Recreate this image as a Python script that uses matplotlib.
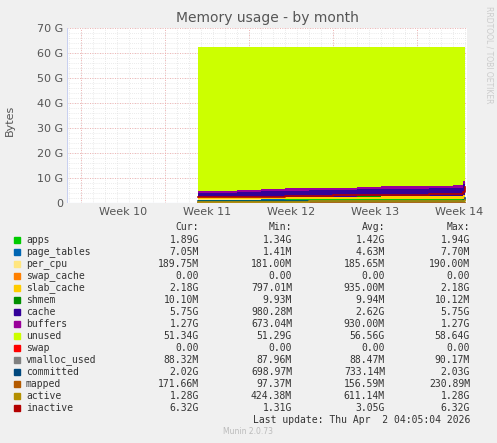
import matplotlib
matplotlib.use("Agg")
import matplotlib.pyplot as plt
import numpy as np

# days since Monday of week 10
days = [9.75, 11, 13, 15, 17, 19, 21, 23, 25, 27, 29, 31, 31.8, 32]

# stacked areas (GB)
apps = [1.35, 1.35, 1.38, 1.40, 1.42, 1.42, 1.43, 1.44, 1.45, 1.46, 1.47, 1.48, 1.60, 1.89]
page_tables = [0.005] * 13 + [0.007]
per_cpu = [0.18] * 13 + [0.19]
swap_cache = [0.0] * 14
slab_cache = [0.80, 0.82, 0.85, 0.88, 0.90, 0.92, 0.95, 0.97, 1.00, 1.02, 1.05, 1.08, 1.30, 2.18]
shmem = [0.01] * 14
cache = [1.6, 1.8, 2.0, 2.2, 2.4, 2.5, 2.6, 2.8, 3.0, 3.1, 3.2, 3.3, 4.5, 5.75]
buffers = [0.75, 0.8, 0.85, 0.9, 0.92, 0.95, 0.97, 1.0, 1.0, 1.0, 1.05, 1.1, 1.2, 1.27]
unused = [57.8, 57.53, 57.23, 56.93, 56.67, 56.52, 56.36, 56.1, 55.86, 55.73, 55.54, 55.35, 53.71, 51.2]
swap = [0.0] * 14

# lines (GB)
vmalloc_used = [0.088] * 14
committed = [0.70, 0.70, 0.71, 0.72, 0.72, 0.73, 0.73, 0.74, 0.74, 0.75, 0.76, 0.77, 1.2, 2.02]
mapped = [0.10, 0.12, 0.14, 0.15, 0.15, 0.16, 0.16, 0.16, 0.16, 0.17, 0.17, 0.17, 0.17, 0.17]
active = [0.45, 0.50, 0.55, 0.60, 0.60, 0.62, 0.62, 0.63, 0.64, 0.65, 0.66, 0.68, 0.90, 1.28]
inactive = [2.3, 2.3, 2.4, 2.6, 2.8, 3.0, 3.1, 3.2, 3.3, 3.4, 3.5, 3.6, 4.5, 6.32]

week_labels = ["Week 10", "Week 11", "Week 12", "Week 13", "Week 14"]
week_pos = [3.5, 10.5, 17.5, 24.5, 31.5]

legend_rows = [
    ("apps", "#00CC00", "1.89G", "1.34G", "1.42G", "1.94G"),
    ("page_tables", "#0066B3", "7.05M", "1.41M", "4.63M", "7.70M"),
    ("per_cpu", "#FFE680", "189.75M", "181.00M", "185.65M", "190.00M"),
    ("swap_cache", "#FF8000", "0.00", "0.00", "0.00", "0.00"),
    ("slab_cache", "#FFCC00", "2.18G", "797.01M", "935.00M", "2.18G"),
    ("shmem", "#008F00", "10.10M", "9.93M", "9.94M", "10.12M"),
    ("cache", "#330099", "5.75G", "980.28M", "2.62G", "5.75G"),
    ("buffers", "#990099", "1.27G", "673.04M", "930.00M", "1.27G"),
    ("unused", "#CCFF00", "51.34G", "51.29G", "56.56G", "58.64G"),
    ("swap", "#FF0000", "0.00", "0.00", "0.00", "0.00"),
    ("vmalloc_used", "#808080", "88.32M", "87.96M", "88.47M", "90.17M"),
    ("committed", "#00487D", "2.02G", "698.97M", "733.14M", "2.03G"),
    ("mapped", "#B35A00", "171.66M", "97.37M", "156.59M", "230.89M"),
    ("active", "#B38F00", "1.28G", "424.38M", "611.14M", "1.28G"),
    ("inactive", "#B30000", "6.32G", "1.31G", "3.05G", "6.32G"),
]
colors = {r[0]: r[1] for r in legend_rows}

BG = "#F0F0F0"
plt.rcParams["font.family"] = "DejaVu Sans"
fig = plt.figure(figsize=(4.97, 4.43), dpi=100, facecolor=BG)
ax = fig.add_axes([67 / 497, 1 - 203 / 443, 400 / 497, 175 / 443])
ax.set_facecolor("white")

x = np.array(days)
stack = [("apps", apps), ("page_tables", page_tables), ("per_cpu", per_cpu),
         ("swap_cache", swap_cache), ("slab_cache", slab_cache), ("shmem", shmem),
         ("cache", cache), ("buffers", buffers), ("unused", unused), ("swap", swap)]
ax.stackplot(x, *[np.array(v) for _, v in stack], colors=[colors[n] for n, _ in stack],
             step="post", linewidth=0, zorder=2)
for name, vals in [("vmalloc_used", vmalloc_used), ("committed", committed),
                   ("mapped", mapped), ("active", active), ("inactive", inactive)]:
    ax.step(x, vals, where="post", color=colors[name], lw=1.2, zorder=3)

ax.set_xlim(-1.17, 32.17)
ax.set_ylim(0, 70)
ax.set_yticks(range(0, 71, 10))
ax.set_yticklabels(["0"] + [f"{v} G" for v in range(10, 71, 10)], fontsize=8, color="#555555")
ax.set_xticks(week_pos)
ax.set_xticklabels(week_labels, fontsize=8, color="#555555")
ax.tick_params(length=0, pad=3)
for d in range(-1, 33):
    ax.axvline(d, color="#d8d8d8", lw=0.5, ls=(0, (1, 2)), zorder=0)
for d in range(0, 33, 7):
    ax.axvline(d, color="#f0a0a0", lw=0.6, ls=(0, (1, 2)), zorder=0)
for v in range(0, 71, 2):
    ax.axhline(v, color="#d8d8d8", lw=0.5, ls=(0, (1, 2)), zorder=0)
for v in range(10, 71, 10):
    ax.axhline(v, color="#f0a0a0", lw=0.6, ls=(0, (1, 2)), zorder=0)
for s in ax.spines.values():
    s.set_visible(False)
ax.axhline(0, color="#c8d0f0", lw=0.8, zorder=4)
ax.axvline(-1.17, color="#c8d0f0", lw=0.8, zorder=4)

fig.text(267 / 497, 1 - 18 / 443, "Memory usage - by month", ha="center", va="center",
         fontsize=10, color="#555555")
fig.text(10 / 497, 1 - 120 / 443, "Bytes", rotation=90, ha="center", va="center",
         fontsize=8, color="#555555")
fig.text(489 / 497, 1 - 55 / 443, "RRDTOOL / TOBI OETIKER", rotation=270, ha="center",
         va="center", fontsize=5.5, color="#cccccc")

mono = "DejaVu Sans Mono"
cols = [199, 292, 385, 470]
for cx, h in zip(cols, ["Cur:", "Min:", "Avg:", "Max:"]):
    fig.text(cx / 497, 1 - 227 / 443, h, ha="right", va="center", fontsize=7,
             family=mono, color="#333333")
for i, (name, col, *vals) in enumerate(legend_rows):
    yy = 1 - (240 + i * 12) / 443
    fig.patches.append(plt.Rectangle((14 / 497, yy - 3 / 443), 6 / 497, 6 / 443,
                                     transform=fig.transFigure, color=col))
    fig.text(26 / 497, yy, name, ha="left", va="center", fontsize=7, family=mono, color="#333333")
    for cx, v in zip(cols, vals):
        fig.text(cx / 497, yy, v, ha="right", va="center", fontsize=7, family=mono, color="#333333")
fig.text(470 / 497, 1 - 420 / 443, "Last update: Thu Apr  2 04:05:04 2026", ha="right",
         va="center", fontsize=7, family=mono, color="#333333")
fig.text(248 / 497, 1 - 432 / 443, "Munin 2.0.73", ha="center", va="center",
         fontsize=5.5, color="#bbbbbb")

fig.savefig("out.png", dpi=100, facecolor=BG)
